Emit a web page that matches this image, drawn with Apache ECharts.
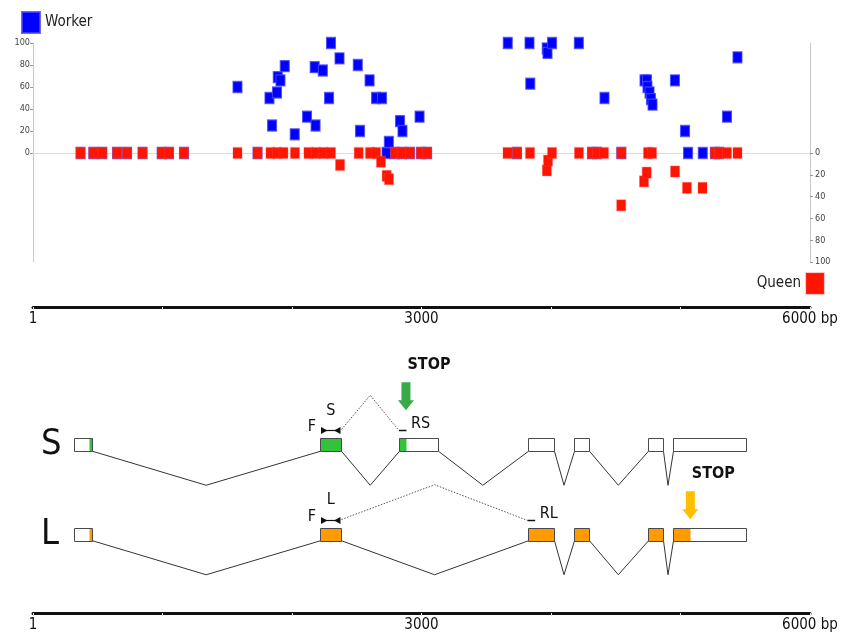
<!DOCTYPE html>
<html>
<head>
<meta charset="utf-8">
<script src="https://cdn.jsdelivr.net/npm/echarts@6/dist/echarts.min.js"></script>
<style>
  html, body { margin: 0; padding: 0; background: #fff; }
  #chart { width: 841px; height: 636px; }
</style>
</head>
<body>
<div id="chart"></div>
<script>
// Read positions along the locus (bp) and read counts per caste
const workerPos = [367, 466, 535, 649, 726, 846, 994, 1050, 1166, 1579, 1734, 1826, 1846, 1884, 1890, 1911, 1944, 2021, 2116, 2175, 2182, 2238, 2286, 2301, 2367, 2508, 2525, 2599, 2649, 2695, 2730, 2748, 2795, 2834, 2850, 2853, 2911, 2985, 2996, 3043, 3666, 3737, 3834, 3840, 3967, 3973, 4008, 4215, 4317, 4355, 4413, 4543, 4722, 4741, 4745, 4761, 4772, 4784, 4957, 5035, 5058, 5172, 5266, 5297, 5359, 5440];
const workerVal = [0, 0, 0, 0, 0, 0, 0, 0, 0, 60, 0, 50, 25, 55, 69, 66, 79, 17, 33, 78, 25, 75, 50, 100, 86, 80, 20, 66, 50, 50, 0, 10, 0, 29, 0, 20, 0, 33, 0, 0, 100, 0, 100, 63, 95, 91, 100, 100, 0, 0, 50, 0, 66, 66, 60, 55, 49, 44, 66, 20, 0, 0, 0, 0, 33, 87];

const queenPos = [367, 466, 535, 649, 726, 846, 994, 1050, 1166, 1579, 1734, 1834, 1884, 1934, 2023, 2127, 2185, 2243, 2301, 2371, 2515, 2602, 2649, 2687, 2731, 2749, 2795, 2849, 2911, 2996, 3043, 3664, 3737, 3838, 3968, 3977, 4008, 4216, 4317, 4355, 4409, 4542, 4543, 4718, 4739, 4749, 4780, 4958, 5050, 5170, 5266, 5297, 5359, 5440];
const queenVal = [0, 0, 0, 0, 0, 0, 0, 0, 0, 0, 0, 0, 0, 0, 0, 0, 0, 0, 0, 11, 0, 0, 0, 8, 21, 24, 0, 0, 0, 0, 0, 0, 0, 0, 16, 7, 0, 0, 0, 0, 0, 48, 0, 26, 18, 0, 0, 17, 32, 32, 0, 0, 0, 0];

// Isoform structures (bp)
const isoforms = ['S', 'L'];
const exonsS = [[319, 458], [2216, 2382], [2826, 3127], [3820, 4023], [4178, 4293], [4747, 4863], [4944, 5503]];
const exonsL = [[319, 458], [2216, 2382], [3820, 4023], [4178, 4293], [4747, 4863], [4944, 5503]];
const cdsStart = [432, 432];
const stopSites = [2880, 5076];
const primerFwd = [2216, 2382];
const primerRev = [2826, 3820];

// Scale bar labels
const scaleTicks = [0, 3000, 6000];
const scaleText = ['1', '3000', '6000 bp'];

const FONT = "'Liberation Sans Narrow', 'DejaVu Sans Condensed', 'Roboto Condensed', sans-serif";
const BLUE = '#0000ff';
const RED = '#ff1400';
const fillColors = ['#33c33a', '#ff9a00'];
const arrowColors = ['#38aa47', '#ffbf00'];
const INK = '#111';

const exonLists = [exonsS, exonsL];

// exon boxes: [start, end, row, fillStart, fillEnd]
const exonData = [];
exonLists.forEach((list, row) => {
  list.forEach(e => {
    const f0 = Math.max(e[0], cdsStart[row]);
    const f1 = Math.min(e[1], stopSites[row]);
    exonData.push([e[0], e[1], row, f0, f1 > f0 ? f1 : f0]);
  });
});

// introns: [prevExonEnd, nextExonStart, row]
const intronData = [];
exonLists.forEach((list, row) => {
  for (let i = 1; i < list.length; i++) intronData.push([list[i - 1][1], list[i][0], row]);
});

// primer / stop annotations per isoform
const annoData = isoforms.map((n, row) => [row, primerFwd[0], primerFwd[1], primerRev[row], stopSites[row]]);

const snap = v => Math.round(v) + 0.5;

function renderExon(params, api) {
  const row = api.value(2);
  const a = api.coord([api.value(0), row]);
  const b = api.coord([api.value(1), row]);
  const h = 13;
  const y = Math.round(a[1] - h / 2) + 0.5;
  const x0 = snap(a[0]), x1 = snap(b[0]);
  const children = [{ type: 'rect', shape: { x: x0, y: y, width: x1 - x0, height: h }, style: { fill: '#fff' } }];
  const f0 = api.value(3), f1 = api.value(4);
  if (f1 > f0) {
    const c0 = api.coord([f0, row])[0], c1 = api.coord([f1, row])[0];
    children.push({ type: 'rect', shape: { x: snap(c0), y: y, width: snap(c1) - snap(c0), height: h }, style: { fill: fillColors[row] } });
  }
  children.push({ type: 'rect', shape: { x: x0, y: y, width: x1 - x0, height: h }, style: { fill: null, stroke: '#4a4a4a', lineWidth: 1 } });
  return { type: 'group', children: children };
}

function renderIntron(params, api) {
  const row = api.value(2);
  const a = api.coord([api.value(0), row]);
  const b = api.coord([api.value(1), row]);
  const base = a[1] + 6.5;
  return {
    type: 'polyline',
    shape: { points: [[snap(a[0]), base], [(a[0] + b[0]) / 2, base + 34], [snap(b[0]), base]] },
    style: { stroke: '#333', lineWidth: 1, fill: null }
  };
}

function txt(text, x, y, size, align, weight) {
  return {
    type: 'text',
    style: {
      text: text, x: x, y: y, fill: INK,
      fontSize: size, fontFamily: FONT, fontWeight: weight || 'normal',
      align: align, textAlign: align, verticalAlign: 'middle', textVerticalAlign: 'middle'
    }
  };
}

function renderAnno(params, api) {
  const row = api.value(0);
  const a = api.coord([api.value(1), row]);
  const b = api.coord([api.value(2), row]);
  const r = api.coord([api.value(3), row]);
  const s = api.coord([api.value(4), row]);
  const cy = a[1];
  const ay = Math.round(cy - 14.5) + 0.5;
  const lift = row === 0 ? 19.5 : 0;
  const name = isoforms[row];
  const sx = s[0];
  const top = cy - 43 - lift, neck = cy - 25 - lift, tip = cy - 15 - lift;
  return {
    type: 'group',
    children: [
      { type: 'line', shape: { x1: a[0] + 2, y1: ay, x2: b[0] - 2, y2: ay }, style: { stroke: INK, lineWidth: 1.2 } },
      { type: 'polygon', shape: { points: [[a[0] + 1, ay - 3.5], [a[0] + 7.5, ay], [a[0] + 1, ay + 3.5]] }, style: { fill: INK } },
      { type: 'polygon', shape: { points: [[b[0] - 1, ay - 3.5], [b[0] - 7.5, ay], [b[0] - 1, ay + 3.5]] }, style: { fill: INK } },
      txt('F', a[0] - 4, ay - 4, 16, 'right'),
      txt(name, (a[0] + b[0]) / 2, cy - 34, 16, 'center'),
      { type: 'polyline', shape: { points: [[b[0], ay - 1], [(b[0] + r[0]) / 2, cy - 49.5], [r[0], ay]] }, style: { stroke: '#555', lineWidth: 1, lineDash: [1.5, 1.5], fill: null } },
      { type: 'line', shape: { x1: r[0], y1: ay, x2: r[0] + 7.5, y2: ay }, style: { stroke: INK, lineWidth: 1.5 } },
      txt('R' + name, r[0] + 12, cy - 20.5, 16, 'left'),
      { type: 'polygon', shape: { points: [[sx - 4.5, top], [sx + 4.5, top], [sx + 4.5, neck], [sx + 8, neck], [sx, tip], [sx - 8, neck], [sx - 4.5, neck]] }, style: { fill: arrowColors[row] } },
      txt('STOP', sx + 23, cy - 60.5 - lift, 16, 'center', 'bold')
    ]
  };
}

const chart = echarts.init(document.getElementById('chart'), null, { renderer: 'canvas' });

const axisGray = '#c8c8c8';
const countLabel = { fontSize: 9, color: '#444', fontFamily: FONT };
const hiddenY = gi => ({ gridIndex: gi, type: 'value', show: false, min: 0, max: 1 });
const scaleAxis = gi => ({
  gridIndex: gi, type: 'value', min: 0, max: 6000, interval: 1000, position: 'bottom',
  axisLine: { show: true, lineStyle: { color: INK, width: 3 } },
  axisTick: { show: true, length: 3, lineStyle: { color: '#e0e0e0' } },
  splitLine: { show: false },
  axisLabel: {
    fontSize: 15, color: INK, fontFamily: FONT, margin: 5,
    formatter: v => { const i = scaleTicks.indexOf(v); return i >= 0 ? scaleText[i] : ''; }
  }
});

chart.setOption({
  animation: false,
  legend: [
    {
      data: ['Worker'], left: 21, top: 11, padding: 0, itemWidth: 18, itemHeight: 21, icon: 'rect',
      textStyle: { fontSize: 15, color: '#222', fontFamily: FONT }
    },
    {
      data: ['Queen'], right: 16, top: 272, padding: 0, itemWidth: 18, itemHeight: 21, icon: 'rect', align: 'right',
      textStyle: { fontSize: 15, color: '#222', fontFamily: FONT }
    }
  ],
  grid: [
    { left: 33, right: 31, top: 43, height: 110 },
    { left: 33, right: 31, top: 153, height: 109 },
    { left: 33, right: 31, top: 400, height: 179 },
    { left: 33, right: 31, top: 306, height: 1 },
    { left: 33, right: 31, top: 612, height: 1 }
  ],
  xAxis: [
    { gridIndex: 0, type: 'value', min: 0, max: 6000, axisLine: { show: true, lineStyle: { color: '#dcdcdc' } }, axisTick: { show: false }, axisLabel: { show: false }, splitLine: { show: false } },
    { gridIndex: 1, type: 'value', min: 0, max: 6000, show: false },
    { gridIndex: 2, type: 'value', min: 0, max: 6000, show: false },
    scaleAxis(3),
    scaleAxis(4)
  ],
  yAxis: [
    { gridIndex: 0, type: 'value', position: 'left', min: 0, max: 100, interval: 20,
      axisLine: { show: true, lineStyle: { color: axisGray } },
      axisTick: { show: true, length: 3, lineStyle: { color: '#999' } },
      axisLabel: Object.assign({ margin: 3 }, countLabel), splitLine: { show: false } },
    { gridIndex: 0, type: 'value', position: 'right', min: 0, max: 100,
      axisLine: { show: true, lineStyle: { color: axisGray } },
      axisTick: { show: false }, axisLabel: { show: false }, splitLine: { show: false } },
    { gridIndex: 1, type: 'value', position: 'left', min: 0, max: 100, inverse: true,
      axisLine: { show: true, lineStyle: { color: axisGray } },
      axisTick: { show: false }, axisLabel: { show: false }, splitLine: { show: false } },
    { gridIndex: 1, type: 'value', position: 'right', min: 0, max: 100, interval: 20, inverse: true,
      axisLine: { show: true, lineStyle: { color: axisGray } },
      axisTick: { show: true, length: 3, lineStyle: { color: '#999' } },
      axisLabel: Object.assign({ margin: 5 }, countLabel), splitLine: { show: false } },
    { gridIndex: 2, type: 'category', data: isoforms, inverse: true,
      axisLine: { show: false }, axisTick: { show: false }, splitLine: { show: false },
      axisLabel: { inside: true, margin: 8, fontSize: 36, color: INK, fontFamily: FONT } },
    hiddenY(3),
    hiddenY(4)
  ],
  series: [
    {
      name: 'Worker', type: 'scatter', xAxisIndex: 0, yAxisIndex: 0, clip: false,
      symbol: 'rect', symbolSize: [9, 11],
      itemStyle: { color: BLUE, borderColor: 'rgba(70,70,255,0.8)', borderWidth: 1.2, opacity: 1 },
      data: workerPos.map((x, i) => [x, workerVal[i]])
    },
    {
      name: 'Queen', type: 'scatter', xAxisIndex: 1, yAxisIndex: 3, clip: false,
      symbol: 'rect', symbolSize: [9, 11],
      itemStyle: { color: RED, borderColor: 'rgba(255,70,70,0.3)', borderWidth: 1.2, opacity: 1 },
      data: queenPos.map((x, i) => [x, queenVal[i]])
    },
    {
      name: 'introns', type: 'custom', xAxisIndex: 2, yAxisIndex: 4, silent: true,
      renderItem: renderIntron, encode: { x: [0, 1], y: 2 }, data: intronData
    },
    {
      name: 'exons', type: 'custom', xAxisIndex: 2, yAxisIndex: 4, silent: true,
      renderItem: renderExon, encode: { x: [0, 1], y: 2 }, data: exonData
    },
    {
      name: 'annotations', type: 'custom', xAxisIndex: 2, yAxisIndex: 4, silent: true,
      renderItem: renderAnno, encode: { x: [1, 2], y: 0 }, data: annoData
    }
  ]
});
</script>
</body>
</html>
